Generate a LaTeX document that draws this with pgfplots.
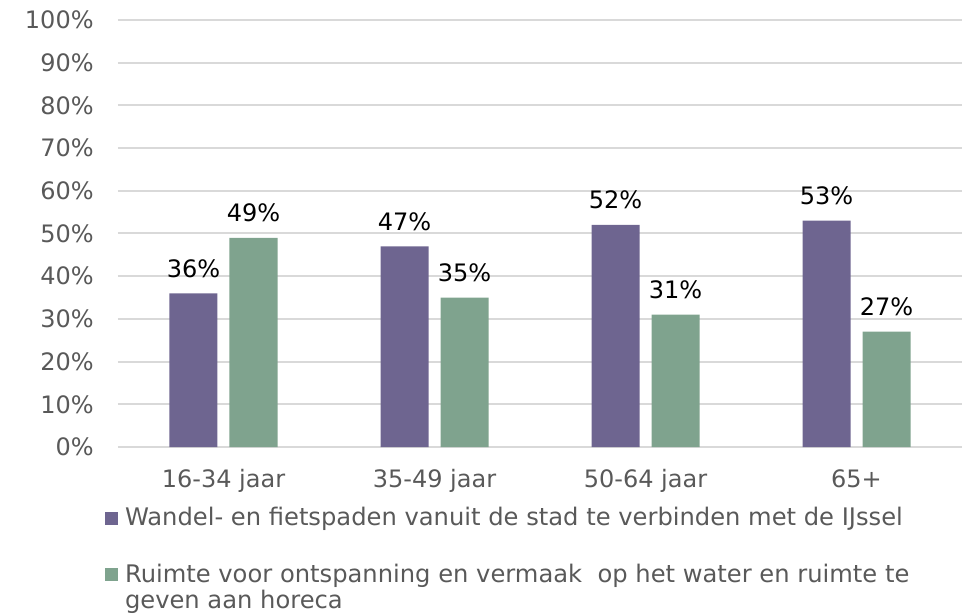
\documentclass[border=0pt]{standalone}
\usepackage{pgfplots}
\pgfplotsset{compat=1.18}
\usepackage{fontspec}
\setmainfont{DejaVu Sans}
\definecolor{cpurple}{HTML}{6E6590}
\definecolor{cgreen}{HTML}{7FA38E}
\definecolor{cgrid}{HTML}{D9D9D9}
\definecolor{ctext}{HTML}{595959}
\begin{document}
\begin{tikzpicture}
\path[use as bounding box] (-59pt,-84pt) rectangle (428pt,223.5pt);
\begin{axis}[
  at={(0,0)}, anchor=south west,
  scale only axis, width=422pt, height=213.5pt,
  ybar=6pt, bar width=24pt,
  xmin=-0.5, xmax=3.5, ymin=0, ymax=100,
  xtick={0,1,2,3}, xticklabels={16-34 jaar,35-49 jaar,50-64 jaar,65+},
  ytick={0,10,...,100},
  yticklabel={\pgfmathprintnumber{\tick}\%},
  /pgf/number format/assume math mode=true,
  ymajorgrids, grid style={cgrid, line width=1pt},
  axis line style={draw=none},
  major tick length=0pt,
  tick label style={font=\fontsize{12}{14}\selectfont, text=ctext, inner sep=0pt},
  yticklabel style={anchor=east, xshift=-12pt},
  xticklabel style={anchor=base, yshift=-20pt},
  nodes near coords={\pgfmathprintnumber{\pgfplotspointmeta}\%},
  every node near coord/.append style={font=\fontsize{12}{14}\selectfont, text=black, anchor=base, inner sep=0pt, yshift=8pt},
  legend style={at={(-0.0154,-0.1405)}, anchor=north west, draw=none, fill=none, inner sep=0pt, row sep=17.5pt, column sep=3.3pt, font=\fontsize{12.1}{13}\selectfont, text=ctext, nodes={inner sep=0pt, align=left}},
  legend cell align=left,
]
\addplot[fill=cpurple, draw=none, legend image code/.code={\fill[cpurple] (0pt,-3.25pt) rectangle (6.5pt,3.25pt);}]
  coordinates {(0,36) (1,47) (2,52) (3,53)};
\addlegendentry{Wandel- en fietspaden vanuit de stad te verbinden met de IJssel}
\addplot[fill=cgreen, draw=none, legend image code/.code={\fill[cgreen] (0pt,3.25pt) rectangle (6.5pt,9.75pt);}]
  coordinates {(0,49) (1,35) (2,31) (3,27)};
\addlegendentry{Ruimte voor ontspanning en vermaak\ \ op het water en ruimte te\\geven aan horeca}
\end{axis}
\end{tikzpicture}
\end{document}
